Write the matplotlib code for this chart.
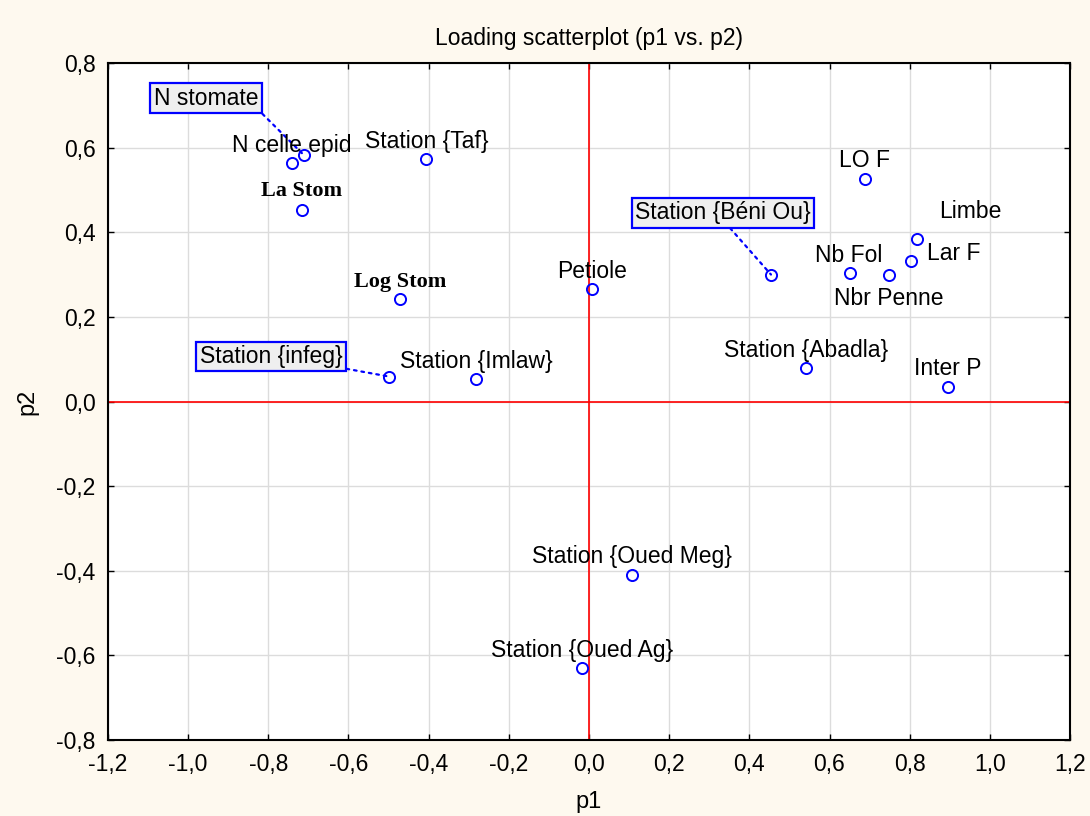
import matplotlib
matplotlib.use("Agg")
import matplotlib.pyplot as plt
from matplotlib.ticker import FuncFormatter, MultipleLocator

labels = ["N stomate", "N celle epid", "La Stom", "Station {Taf}", "Log Stom",
          "Petiole", "Station {infeg}", "Station {Imlaw}", "Station {Béni Ou}",
          "LO F", "Limbe", "Lar F", "Nb Fol", "Nbr Penne", "Station {Abadla}",
          "Inter P", "Station {Oued Meg}", "Station {Oued Ag}"]
p1 = [-0.711, -0.741, -0.716, -0.406, -0.471, 0.007, -0.499, -0.282, 0.454,
      0.688, 0.818, 0.803, 0.651, 0.748, 0.541, 0.895, 0.107, -0.017]
p2 = [0.582, 0.563, 0.452, 0.572, 0.243, 0.265, 0.059, 0.052, 0.300,
      0.527, 0.383, 0.331, 0.303, 0.300, 0.078, 0.035, -0.409, -0.631]

# label offsets in pixels (dx, dy up), box flag, font style
offsets = {
    "N stomate": (-98, 57), "Station {infeg}": (-118, 20), "Station {Béni Ou}": (-48, 62),
    "Limbe": (53, 28), "Lar F": (43, 8), "Nbr Penne": (0, -24), "Nb Fol": (-1, 18),
    "La Stom": (0, 19), "Log Stom": (0, 17),
}
boxed = {"N stomate": (1, 0), "Station {infeg}": (1, 0), "Station {Béni Ou}": (0.52, 0)}
serif_bold = {"La Stom", "Log Stom"}

bg = "#FEF9EF"
fig = plt.figure(figsize=(10.9, 8.16), dpi=100, facecolor=bg)
ax = fig.add_axes([108/1090, 1-740/816, (1070-108)/1090, (740-63)/816])
ax.set_facecolor("white")
ax.set_xlim(-1.2, 1.2)
ax.set_ylim(-0.8, 0.8)
ax.xaxis.set_major_locator(MultipleLocator(0.2))
ax.yaxis.set_major_locator(MultipleLocator(0.2))
fmt = FuncFormatter(lambda v, p: ("%.1f" % v).replace(".", ",").replace("-0,0", "0,0"))
ax.xaxis.set_major_formatter(fmt)
ax.yaxis.set_major_formatter(fmt)
ax.grid(True, color="#DCDCDC", linewidth=1)
ax.set_axisbelow(True)
ax.tick_params(direction="in", length=4, width=1, top=True, right=True,
               labelsize=16.5, pad=9)
for lab in ax.get_xticklabels() + ax.get_yticklabels():
    lab.set_family("Liberation Sans")
for s in ax.spines.values():
    s.set_linewidth(1.5)
    s.set_color("black")

ax.axvline(0, color="red", linewidth=1.2, zorder=2)
ax.axhline(0, color="red", linewidth=1.2, zorder=2)

ax.plot(p1, p2, linestyle="none", marker="o", markersize=8, markerfacecolor="none",
        markeredgecolor="blue", markeredgewidth=1.4, zorder=3)

for lab, x, y in zip(labels, p1, p2):
    dx, dy = offsets.get(lab, (0, 18))
    kw = dict(xy=(x, y), xytext=(dx * 0.72, dy * 0.72), textcoords="offset points",
              ha="center", va="center", fontsize=16.5, zorder=4)
    if lab in serif_bold:
        kw.update(family="Liberation Serif", fontweight="bold", fontsize=16)
    else:
        kw.update(family="Liberation Sans")
    if lab in boxed:
        kw["bbox"] = dict(boxstyle="square,pad=0.15", facecolor="#EFEFEF", edgecolor="blue", linewidth=1.6)
        kw["arrowprops"] = dict(arrowstyle="-", color="blue", linestyle=(0, (1.2, 2.2)),
                                linewidth=1.6, relpos=boxed[lab], shrinkA=0, shrinkB=0)
    ax.annotate(lab, **kw)

ax.set_title("Loading scatterplot (p1 vs. p2)", fontsize=16.5, family="Liberation Sans", pad=13)
ax.set_xlabel("p1", fontsize=17, family="Liberation Sans", labelpad=11)
ax.set_ylabel("p2", fontsize=17, family="Liberation Sans", labelpad=13)

fig.savefig("out.png", dpi=100, facecolor=bg)
